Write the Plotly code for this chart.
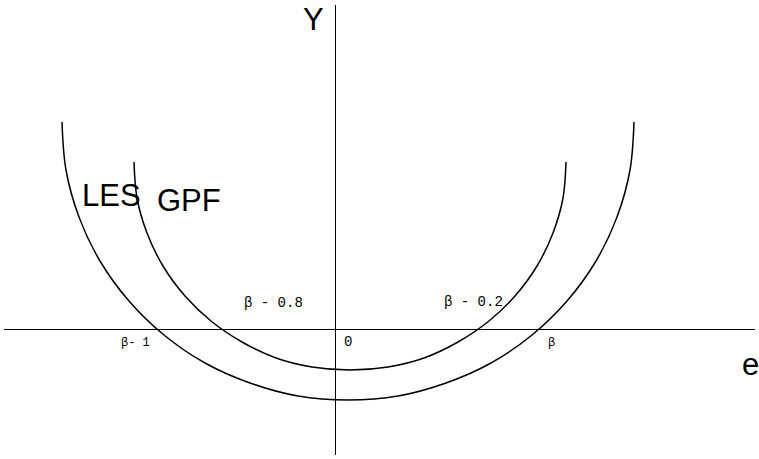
import plotly.graph_objects as go

# curve LES (outer)
les_e = [-2.73, -2.69, -2.56, -2.35, -2.06, -1.71, -1.30, -0.85, -0.37, 0.13,
         0.63, 1.11, 1.56, 1.97, 2.32, 2.61, 2.82, 2.95, 2.99]
les_y = [2.07, 1.59, 1.12, 0.68, 0.28, -0.06, -0.34, -0.54, -0.67, -0.71,
         -0.67, -0.54, -0.34, -0.06, 0.28, 0.68, 1.12, 1.59, 2.07]

# curve GPF (inner)
gpf_e = [-2.01, -1.98, -1.88, -1.72, -1.50, -1.24, -0.93, -0.59, -0.23, 0.15,
         0.53, 0.89, 1.23, 1.54, 1.80, 2.02, 2.18, 2.28, 2.31]
gpf_y = [1.67, 1.31, 0.96, 0.63, 0.33, 0.08, -0.13, -0.29, -0.38, -0.41,
         -0.38, -0.29, -0.13, 0.08, 0.33, 0.63, 0.96, 1.31, 1.67]

# small labels on the e axis
tick_text = ["β- 1", "β - 0.8", "0", "β - 0.2", "β"]
tick_e = [-2.00, -0.62, 0.13, 1.38, 2.16]
tick_y = [-0.14, 0.26, -0.13, 0.27, -0.14]
tick_size = [12, 14, 14, 14, 12]

# big labels
big_text = ["Y", "e", "LES", "GPF"]
big_e = [-0.22, 4.15, -2.24, -1.46]
big_y = [3.10, -0.35, 1.34, 1.29]

fig = go.Figure()
for xs, ys in [(les_e, les_y), (gpf_e, gpf_y)]:
    fig.add_trace(go.Scatter(x=xs, y=ys, mode="lines",
                             line=dict(color="black", width=1.5, shape="spline", smoothing=1.0),
                             hoverinfo="skip"))

for t, x, y, s in zip(tick_text, tick_e, tick_y, tick_size):
    fig.add_annotation(x=x, y=y, text=t, showarrow=False,
                       font=dict(family="Liberation Mono", size=s, color="black"))

for t, x, y in zip(big_text, big_e, big_y):
    fig.add_annotation(x=x, y=y, text=t, showarrow=False,
                       font=dict(family="Liberation Sans", size=31, color="black"))

fig.update_xaxes(range=[-3.31, 4.20], showgrid=False, showticklabels=False, ticks="",
                 zeroline=True, zerolinecolor="black", zerolinewidth=1.3)
fig.update_yaxes(range=[-1.26, 3.24], showgrid=False, showticklabels=False, ticks="",
                 zeroline=True, zerolinecolor="black", zerolinewidth=1.3)
fig.update_layout(width=759, height=459, showlegend=False,
                  margin=dict(l=4, r=4, t=5, b=4),
                  plot_bgcolor="white", paper_bgcolor="white")

# the page body has a default margin, drop it so the figure sits at the corner
fig.write_html("out.html", config={"displayModeBar": False},
               post_script="document.body.style.margin='0';")
